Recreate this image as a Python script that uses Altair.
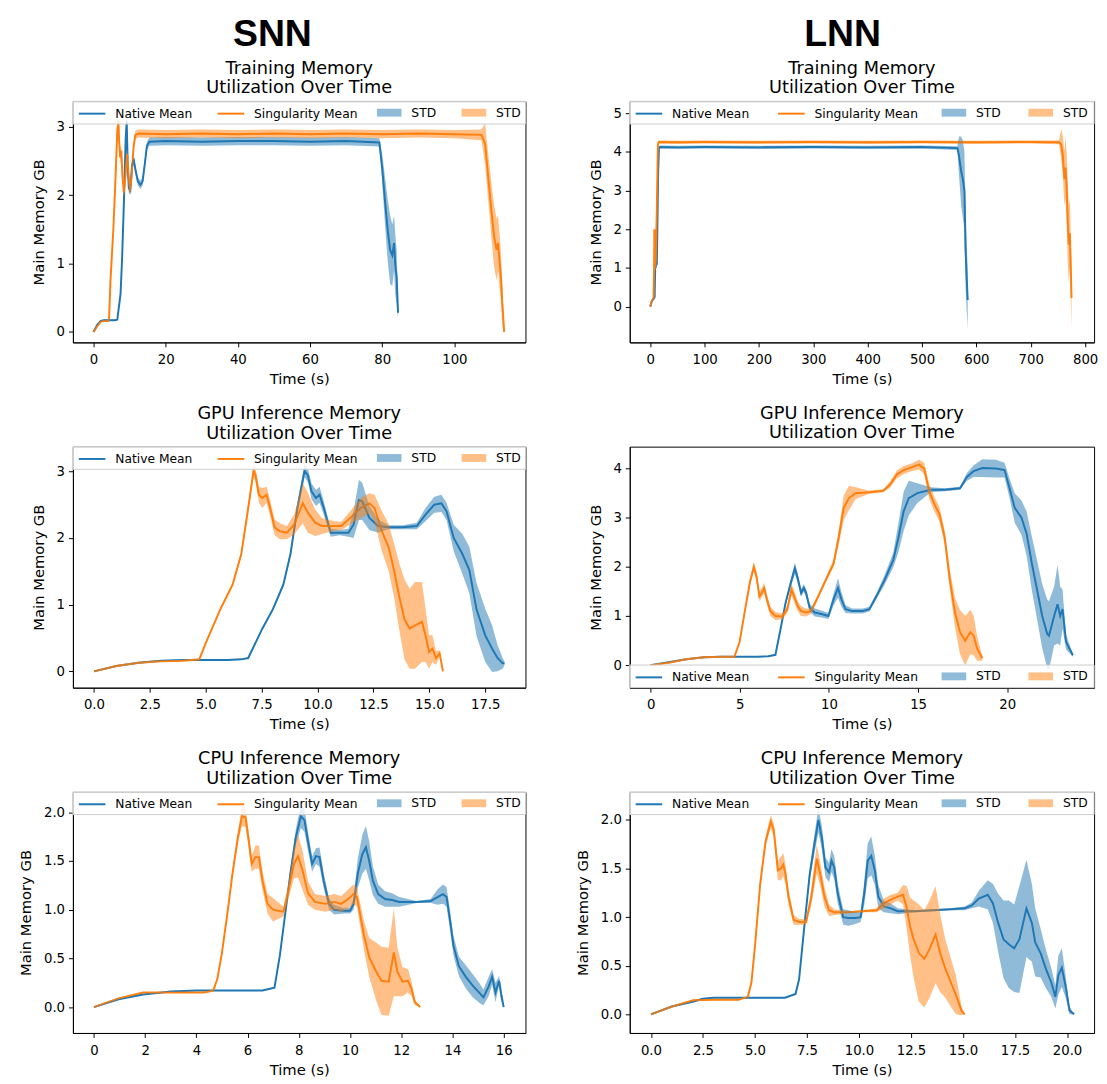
import altair as alt
import pandas as pd

BLUE = "#1f77b4"
ORANGE = "#ff7f0e"

# ---------------- SNN training ----------------
snn_tr_nat_t = [0, 1, 2, 3, 4, 5, 6, 6.6, 7.5, 7.9, 8.4, 8.9, 9.2, 9.5, 9.8, 10.2, 10.7, 11.2, 11.7, 12.3, 13.0, 13.6, 14.2, 14.8, 15.5,
                20, 30, 40, 50, 60, 70, 79.2, 80.0, 80.8, 81.5, 82.2, 82.8, 83.3, 83.6, 84.0, 84.4]
snn_tr_nat_m = [0, 0.1, 0.16, 0.17, 0.17, 0.17, 0.17, 0.18, 0.56, 1.04, 1.85, 2.8, 3.08, 2.4, 2.1, 2.07, 2.45, 2.5, 2.35, 2.2, 2.15, 2.2, 2.45, 2.72, 2.78,
                2.79, 2.78, 2.79, 2.79, 2.78, 2.79, 2.77, 2.4, 1.9, 1.5, 1.2, 1.12, 1.3, 1.0, 0.8, 0.28]
snn_tr_nat_s = [0.005, 0.01, 0.01, 0.01, 0.01, 0.01, 0.01, 0.01, 0.03, 0.05, 0.08, 0.1, 0.1, 0.1, 0.08, 0.06, 0.06, 0.06, 0.06, 0.06, 0.06, 0.06, 0.06, 0.06, 0.06,
                0.06, 0.06, 0.06, 0.06, 0.06, 0.06, 0.06, 0.2, 0.35, 0.45, 0.5, 0.45, 0.4, 0.45, 0.4, 0.1]
snn_tr_sin_t = [0, 1, 2, 3, 4, 4.3, 4.7, 5.5, 6.1, 6.6, 6.9, 7.1, 7.4, 7.7, 8.0, 8.4, 8.9, 9.3, 9.7, 10.1, 10.6, 11.1, 11.6, 12.5,
                20, 30, 40, 50, 60, 70, 80, 90, 100, 107.5, 108.5, 109.5, 110.3, 111.0, 111.7, 112.1, 112.5, 112.9, 113.3, 113.8]
snn_tr_sin_m = [0, 0.08, 0.15, 0.16, 0.16, 0.17, 0.75, 1.5, 2.25, 2.95, 3.08, 2.8, 2.55, 2.65, 2.3, 2.04, 2.3, 2.6, 2.3, 2.05, 2.3, 2.7, 2.88, 2.9,
                2.89, 2.9, 2.89, 2.9, 2.89, 2.9, 2.89, 2.9, 2.89, 2.88, 2.75, 2.2, 1.75, 1.4, 1.2, 1.3, 1.05, 0.8, 0.4, 0.0]
snn_tr_sin_s = [0.005, 0.01, 0.01, 0.01, 0.01, 0.01, 0.03, 0.05, 0.06, 0.08, 0.08, 0.1, 0.1, 0.1, 0.1, 0.08, 0.08, 0.08, 0.08, 0.06, 0.06, 0.06, 0.06, 0.06,
                0.06, 0.06, 0.06, 0.06, 0.06, 0.06, 0.06, 0.06, 0.06, 0.08, 0.3, 0.35, 0.4, 0.45, 0.45, 0.4, 0.4, 0.35, 0.3, 0.05]

# ---------------- LNN training ----------------
lnn_tr_nat_t = [0, 3, 6, 8, 9, 10, 12, 13, 14.5, 16, 18, 50, 100, 200, 300, 400, 500, 565, 568, 572, 575, 578, 580, 582, 584]
lnn_tr_nat_m = [0, 0.15, 0.2, 0.25, 1.0, 1.05, 1.1, 2.0, 3.5, 4.1, 4.13, 4.12, 4.13, 4.12, 4.13, 4.12, 4.13, 4.1, 3.9, 3.5, 3.3, 3.0, 1.5, 0.8, 0.17]
lnn_tr_nat_s = [0.01, 0.02, 0.02, 0.05, 0.05, 0.05, 0.1, 0.2, 0.2, 0.05, 0.04, 0.04, 0.04, 0.04, 0.04, 0.04, 0.04, 0.05, 0.5, 0.9, 1.0, 1.0, 1.0, 0.9, 0.75]
lnn_tr_sin_t = [0, 3, 6, 7, 7.5, 8, 8.5, 10, 12, 14, 16, 50, 100, 200, 300, 400, 500, 600, 700, 752, 756, 759, 762, 764, 766, 768, 770, 772, 775]
lnn_tr_sin_m = [0, 0.15, 0.22, 1.0, 2.0, 1.9, 1.0, 1.1, 2.5, 4.2, 4.26, 4.25, 4.26, 4.25, 4.26, 4.25, 4.26, 4.25, 4.26, 4.25, 4.2, 3.9, 3.3, 3.6, 3.1, 2.2, 1.6, 1.9, 0.22]
lnn_tr_sin_s = [0.01, 0.02, 0.02, 0.1, 0.1, 0.1, 0.1, 0.1, 0.2, 0.1, 0.04, 0.04, 0.04, 0.04, 0.04, 0.04, 0.04, 0.04, 0.04, 0.05, 0.4, 0.5, 0.7, 0.8, 0.9, 1.0, 1.0, 0.9, 0.8]

# ---------------- SNN GPU inference ----------------
snn_gpu_nat_t = [0, 1, 2, 3, 4, 5, 6, 6.6, 6.9, 7.53, 8.0, 8.47, 8.79, 9.1, 9.42, 9.57, 9.73, 9.93, 10.09, 10.28, 10.59, 10.99, 11.38, 11.61,
                 11.85, 12.0, 12.32, 12.71, 13.18, 13.81, 14.44, 14.83, 15.22, 15.54, 15.77, 16.09, 16.48, 16.79, 17.11, 17.5, 17.81, 18.05, 18.28, 18.36]
snn_gpu_nat_m = [0, 0.08, 0.13, 0.16, 0.17, 0.17, 0.17, 0.18, 0.2, 0.64, 0.93, 1.3, 1.76, 2.45, 3.01, 2.94, 2.7, 2.6, 2.65, 2.45, 2.08, 2.08, 2.08, 2.2,
                 2.57, 2.55, 2.3, 2.18, 2.16, 2.16, 2.18, 2.35, 2.5, 2.52, 2.4, 2.0, 1.76, 1.52, 0.93, 0.54, 0.34, 0.2, 0.12, 0.12]
snn_gpu_nat_s = [0.005, 0.005, 0.005, 0.005, 0.005, 0.005, 0.005, 0.005, 0.005, 0.01, 0.02, 0.03, 0.05, 0.08, 0.1, 0.1, 0.12, 0.12, 0.12, 0.1, 0.06, 0.04, 0.06, 0.2,
                 0.3, 0.28, 0.18, 0.1, 0.03, 0.03, 0.05, 0.1, 0.12, 0.13, 0.13, 0.2, 0.3, 0.35, 0.4, 0.4, 0.35, 0.2, 0.08, 0.03]
snn_gpu_sin_t = [0, 1, 2, 3, 4, 4.71, 5.02, 5.65, 6.2, 6.59, 6.9, 7.14, 7.22, 7.38, 7.53, 7.72, 7.88, 8.08, 8.32, 8.63, 8.95, 9.34, 9.57, 9.89, 10.2,
                 10.67, 11.06, 11.46, 11.93, 12.32, 12.55, 12.87, 13.18, 13.42, 13.65, 13.89, 14.12, 14.36, 14.67, 14.83, 14.99, 15.14, 15.3, 15.46, 15.61]
snn_gpu_sin_m = [0, 0.08, 0.13, 0.15, 0.16, 0.18, 0.44, 0.93, 1.3, 1.76, 2.45, 3.01, 2.95, 2.65, 2.6, 2.65, 2.45, 2.16, 2.1, 2.08, 2.2, 2.52, 2.38, 2.23, 2.18,
                 2.18, 2.18, 2.3, 2.45, 2.52, 2.45, 2.11, 1.86, 1.52, 1.13, 0.78, 0.64, 0.69, 0.74, 0.54, 0.29, 0.34, 0.2, 0.27, 0.0]
snn_gpu_sin_s = [0.005, 0.005, 0.005, 0.005, 0.005, 0.005, 0.01, 0.02, 0.03, 0.04, 0.06, 0.1, 0.1, 0.12, 0.15, 0.12, 0.12, 0.12, 0.12, 0.1, 0.15, 0.3, 0.3, 0.2, 0.12,
                 0.08, 0.06, 0.1, 0.15, 0.15, 0.2, 0.3, 0.35, 0.4, 0.5, 0.6, 0.6, 0.65, 0.6, 0.4, 0.25, 0.2, 0.1, 0.05, 0.0]

# ---------------- LNN GPU inference ----------------
lnn_gpu_nat_t = [0, 1, 2, 3, 4, 5, 6, 6.6, 7.0, 7.29, 7.57, 7.86, 8.09, 8.25, 8.44, 8.59, 8.72, 8.92, 9.2, 9.59, 9.97, 10.26, 10.51, 10.7, 10.93,
                 11.31, 11.89, 12.27, 12.66, 13.13, 13.61, 13.9, 14.19, 14.48, 14.96, 15.72, 16.49, 17.35, 17.74, 18.12, 18.6, 19.37, 19.85,
                 20.13, 20.42, 20.8, 21.09, 21.38, 21.67, 21.96, 22.24, 22.34, 22.63, 22.82, 22.97, 23.1, 23.3, 23.68]
lnn_gpu_nat_m = [0, 0.06, 0.12, 0.16, 0.17, 0.17, 0.17, 0.18, 0.21, 0.74, 1.27, 1.67, 1.97, 1.77, 1.47, 1.57, 1.47, 1.17, 1.07, 1.04, 1.0, 1.34, 1.57, 1.34, 1.14,
                 1.1, 1.1, 1.14, 1.4, 1.74, 2.14, 2.6, 3.13, 3.4, 3.5, 3.57, 3.57, 3.6, 3.83, 3.95, 4.01, 4.0, 3.97,
                 3.6, 3.2, 3.0, 2.67, 2.07, 1.54, 1.0, 0.64, 0.6, 1.0, 1.24, 1.0, 1.14, 0.47, 0.2]
lnn_gpu_nat_s = [0.005, 0.005, 0.005, 0.005, 0.005, 0.005, 0.005, 0.005, 0.005, 0.03, 0.05, 0.08, 0.12, 0.1, 0.08, 0.08, 0.08, 0.08, 0.08, 0.07, 0.06, 0.12, 0.2, 0.15, 0.08,
                 0.05, 0.05, 0.05, 0.06, 0.1, 0.15, 0.3, 0.4, 0.35, 0.2, 0.05, 0.03, 0.03, 0.08, 0.12, 0.18, 0.18, 0.15,
                 0.2, 0.3, 0.35, 0.45, 0.55, 0.6, 0.65, 0.7, 0.7, 0.6, 0.8, 0.6, 0.4, 0.15, 0.03]
lnn_gpu_sin_t = [0, 1, 2, 3, 4, 4.7, 4.99, 5.27, 5.56, 5.79, 5.94, 6.1, 6.23, 6.37, 6.52, 6.71, 7.0, 7.38, 7.67, 7.9, 8.05, 8.25, 8.44, 8.72, 9.0,
                 9.4, 9.78, 10.26, 10.55, 10.83, 11.12, 11.5, 12.27, 13.04, 13.42, 13.81, 14.19, 14.67, 15.05, 15.34, 15.63, 15.92, 16.2, 16.49,
                 16.78, 17.07, 17.35, 17.64, 17.93, 18.12, 18.31, 18.6]
lnn_gpu_sin_m = [0, 0.05, 0.12, 0.16, 0.17, 0.17, 0.47, 1.07, 1.67, 2.0, 1.8, 1.4, 1.47, 1.57, 1.34, 1.1, 1.0, 0.99, 1.14, 1.54, 1.4, 1.2, 1.1, 1.07, 1.1,
                 1.4, 1.7, 2.07, 2.6, 3.2, 3.4, 3.5, 3.52, 3.55, 3.67, 3.88, 3.97, 4.03, 4.08, 4.0, 3.53, 3.27, 3.07, 2.6,
                 1.74, 1.07, 0.67, 0.5, 0.67, 0.6, 0.34, 0.14]
lnn_gpu_sin_s = [0.005, 0.005, 0.005, 0.005, 0.005, 0.005, 0.02, 0.04, 0.06, 0.1, 0.1, 0.1, 0.1, 0.1, 0.1, 0.1, 0.08, 0.06, 0.08, 0.12, 0.12, 0.1, 0.1, 0.08, 0.06,
                 0.05, 0.05, 0.08, 0.15, 0.25, 0.25, 0.12, 0.03, 0.03, 0.06, 0.08, 0.08, 0.08, 0.1, 0.12, 0.15, 0.15, 0.15, 0.15,
                 0.2, 0.3, 0.45, 0.5, 0.45, 0.4, 0.25, 0.05]

# ---------------- SNN CPU inference ----------------
snn_cpu_nat_t = [0, 0.96, 1.92, 3, 4, 5, 6, 6.58, 7.05, 7.26, 7.47, 7.67, 7.88, 8.08, 8.22, 8.36, 8.52, 8.67, 8.81, 8.97, 9.18, 9.38, 9.73, 10.0,
                 10.14, 10.3, 10.48, 10.62, 10.75, 10.89, 11.1, 11.37, 11.64, 11.92, 12.6, 13.15, 13.42, 13.63, 13.77, 13.9, 14.04, 14.25,
                 14.52, 14.79, 15.07, 15.21, 15.41, 15.55, 15.68, 15.82, 15.89, 16.0]
snn_cpu_nat_m = [0, 0.08, 0.13, 0.16, 0.17, 0.17, 0.17, 0.17, 0.2, 0.53, 0.96, 1.37, 1.74, 1.96, 1.92, 1.7, 1.47, 1.55, 1.54, 1.3, 1.06, 1.0, 0.99, 0.99,
                 1.06, 1.37, 1.57, 1.64, 1.5, 1.3, 1.16, 1.11, 1.1, 1.08, 1.08, 1.09, 1.13, 1.16, 1.13, 0.9, 0.63, 0.42,
                 0.31, 0.22, 0.14, 0.1, 0.21, 0.31, 0.15, 0.27, 0.15, 0.0]
snn_cpu_nat_s = [0.005, 0.005, 0.005, 0.005, 0.005, 0.005, 0.005, 0.005, 0.005, 0.02, 0.03, 0.05, 0.08, 0.12, 0.12, 0.1, 0.08, 0.08, 0.1, 0.08, 0.06, 0.05, 0.03, 0.03,
                 0.06, 0.15, 0.2, 0.22, 0.2, 0.15, 0.1, 0.08, 0.07, 0.05, 0.01, 0.02, 0.08, 0.1, 0.1, 0.1, 0.1, 0.1,
                 0.12, 0.12, 0.1, 0.08, 0.1, 0.08, 0.1, 0.05, 0.08, 0.0]
snn_cpu_sin_t = [0, 0.96, 1.92, 3, 4.3, 4.66, 4.82, 5.0, 5.21, 5.41, 5.62, 5.78, 5.92, 6.03, 6.16, 6.3, 6.44, 6.58, 6.78, 6.99, 7.4, 7.6, 7.81, 7.97,
                 8.15, 8.36, 8.63, 9.04, 9.38, 9.66, 9.93, 10.14, 10.27, 10.41, 10.55, 10.75, 11.03, 11.23, 11.51, 11.71, 11.85, 12.05,
                 12.26, 12.4, 12.53, 12.74]
snn_cpu_sin_m = [0, 0.09, 0.15, 0.15, 0.15, 0.17, 0.29, 0.56, 0.96, 1.37, 1.74, 1.96, 1.95, 1.74, 1.47, 1.54, 1.54, 1.3, 1.06, 1.0, 0.98, 1.2, 1.47, 1.55,
                 1.4, 1.17, 1.08, 1.06, 1.08, 1.06, 1.11, 1.16, 1.13, 0.93, 0.73, 0.51, 0.36, 0.27, 0.26, 0.56, 0.36, 0.26,
                 0.27, 0.19, 0.05, 0.0]
snn_cpu_sin_s = [0.005, 0.005, 0.005, 0.005, 0.005, 0.005, 0.01, 0.02, 0.03, 0.04, 0.06, 0.1, 0.1, 0.08, 0.08, 0.12, 0.12, 0.1, 0.1, 0.12, 0.05, 0.08, 0.15, 0.22,
                 0.2, 0.12, 0.08, 0.08, 0.08, 0.08, 0.1, 0.1, 0.1, 0.12, 0.15, 0.2, 0.3, 0.35, 0.35, 0.45, 0.25, 0.15,
                 0.12, 0.08, 0.03, 0.0]

# ---------------- LNN CPU inference ----------------
lnn_cpu_nat_t = [0, 1.0, 2.0, 2.5, 3, 4, 5, 6, 6.44, 6.95, 7.12, 7.37, 7.63, 7.88, 8.05, 8.22, 8.39, 8.56, 8.68, 8.81, 8.98, 9.24, 9.49, 9.83,
                 10.08, 10.25, 10.42, 10.59, 10.76, 10.93, 11.19, 11.53, 11.86, 12.71, 13.56, 14.41, 15.08, 15.42, 15.76, 16.19, 16.44, 16.69,
                 16.95, 17.2, 17.46, 17.71, 18.05, 18.31, 18.47, 18.73, 18.98, 19.24, 19.44, 19.58, 19.75, 19.92, 20.12, 20.34]
lnn_cpu_nat_m = [0, 0.08, 0.13, 0.16, 0.17, 0.17, 0.17, 0.17, 0.17, 0.21, 0.36, 0.9, 1.44, 1.78, 2.0, 1.81, 1.51, 1.46, 1.58, 1.51, 1.24, 1.0, 0.99, 0.99,
                 1.0, 1.24, 1.58, 1.63, 1.48, 1.21, 1.11, 1.09, 1.06, 1.06, 1.07, 1.08, 1.09, 1.12, 1.19, 1.23, 1.14, 0.94,
                 0.77, 0.72, 0.68, 0.77, 1.09, 0.94, 0.74, 0.63, 0.47, 0.33, 0.18, 0.4, 0.48, 0.3, 0.04, 0.0]
lnn_cpu_nat_s = [0.005, 0.005, 0.005, 0.005, 0.005, 0.005, 0.005, 0.005, 0.005, 0.005, 0.01, 0.03, 0.06, 0.1, 0.13, 0.12, 0.1, 0.1, 0.12, 0.12, 0.1, 0.08, 0.08, 0.06,
                 0.05, 0.12, 0.18, 0.2, 0.15, 0.12, 0.06, 0.05, 0.03, 0.01, 0.01, 0.01, 0.02, 0.03, 0.08, 0.15, 0.2, 0.3,
                 0.4, 0.45, 0.45, 0.55, 0.5, 0.4, 0.35, 0.25, 0.2, 0.15, 0.12, 0.2, 0.2, 0.12, 0.04, 0.0]
lnn_cpu_sin_t = [0, 1.02, 2.03, 3, 4.2, 4.66, 4.83, 5.0, 5.25, 5.51, 5.76, 5.9, 6.1, 6.25, 6.36, 6.47, 6.61, 6.86, 7.12, 7.46, 7.71, 7.97, 8.14, 8.34,
                 8.56, 8.81, 9.49, 10.17, 10.85, 11.19, 11.53, 11.86, 12.12, 12.29, 12.46, 12.63, 12.88, 13.14, 13.39, 13.68, 13.9, 14.15,
                 14.41, 14.66, 14.92, 15.08]
lnn_cpu_sin_m = [0, 0.08, 0.145, 0.15, 0.15, 0.18, 0.33, 0.7, 1.34, 1.78, 1.98, 1.9, 1.48, 1.5, 1.54, 1.44, 1.21, 0.97, 0.95, 0.95, 1.21, 1.6, 1.44, 1.21,
                 1.07, 1.05, 1.05, 1.06, 1.07, 1.14, 1.18, 1.21, 1.23, 1.1, 0.9, 0.77, 0.63, 0.57, 0.67, 0.82, 0.63, 0.47,
                 0.33, 0.2, 0.04, 0.0]
lnn_cpu_sin_s = [0.005, 0.005, 0.005, 0.005, 0.005, 0.005, 0.01, 0.02, 0.04, 0.05, 0.07, 0.07, 0.1, 0.12, 0.12, 0.1, 0.08, 0.05, 0.03, 0.03, 0.08, 0.15, 0.12, 0.1,
                 0.06, 0.03, 0.01, 0.01, 0.02, 0.05, 0.05, 0.04, 0.1, 0.22, 0.3, 0.4, 0.5, 0.5, 0.5, 0.5, 0.4, 0.3,
                 0.25, 0.2, 0.05, 0.0]

TITLE_TRAIN = ["Training Memory", "Utilization Over Time"]
TITLE_GPU = ["GPU Inference Memory", "Utilization Over Time"]
TITLE_CPU = ["CPU Inference Memory", "Utilization Over Time"]
HEADERS = ["SNN", "LNN"]

H = 245
LEG_H = 23


def make_df(nt, nm, ns, st, sm, ss):
    rows = []
    for t, m, s in zip(nt, nm, ns):
        rows.append({"t": t, "mean": m, "lo": m - s, "hi": m + s,
                     "series": "Native Mean", "band": "STD_native"})
    for t, m, s in zip(st, sm, ss):
        rows.append({"t": t, "mean": m, "lo": m - s, "hi": m + s,
                     "series": "Singularity Mean", "band": "STD_sing"})
    return pd.DataFrame(rows)


def panel(df, W, xdom, ydom, xticks, yticks, xfmt, yfmt, title, legend_bottom=False):
    leg_top = H - LEG_H if legend_bottom else 0
    xenc = alt.X("t:Q", scale=alt.Scale(domain=xdom, nice=False, zero=False),
                 axis=alt.Axis(values=xticks, format=xfmt, title="Time (s)"))
    yaxis = alt.Axis(values=yticks, format=yfmt, title="Main Memory GB")
    yscale = alt.Scale(domain=ydom, nice=False, zero=False)
    base = alt.Chart(df)
    line_leg = alt.Legend(
        orient="none", legendX=5, legendY=leg_top + 11.5 - 13.5, direction="horizontal",
        title=None, labelFont="DejaVu Sans", labelFontSize=12.5, labelColor="black",
        symbolType="stroke", symbolSize=729, symbolStrokeWidth=2, labelOffset=9,
        columnPadding=round(0.309 * W - 121, 1), padding=0)
    fill_leg = alt.Legend(
        orient="none", legendX=round(0.672 * W), legendY=leg_top + 11.5 - 12.5, direction="horizontal",
        title=None, labelFont="DejaVu Sans", labelFontSize=12.5, labelColor="black",
        labelExpr="'STD'", symbolType="M-1,-0.32H1V0.32H-1Z", symbolSize=625,
        symbolOpacity=0.5, symbolStrokeWidth=0, labelOffset=10,
        columnPadding=round(0.185 * W - 60, 1), padding=0)
    lines = base.mark_line(strokeWidth=2, clip=True).encode(
        x=xenc,
        y=alt.Y("mean:Q", scale=yscale, axis=yaxis),
        color=alt.Color("series:N",
                        scale=alt.Scale(domain=["Native Mean", "Singularity Mean"], range=[BLUE, ORANGE]),
                        legend=line_leg),
    )
    bands = base.mark_area(opacity=0.5, clip=True).encode(
        x=xenc,
        y=alt.Y("lo:Q", scale=yscale, axis=yaxis),
        y2="hi:Q",
        fill=alt.Fill("band:N",
                      scale=alt.Scale(domain=["STD_native", "STD_sing"], range=[BLUE, ORANGE]),
                      legend=fill_leg),
    )
    one = pd.DataFrame({"k": [0]})
    legbox = alt.Chart(one).mark_rect(fill="white", fillOpacity=0.8, stroke="#cccccc", strokeWidth=1).encode(
        x=alt.value(0), x2=alt.value(W), y=alt.value(leg_top), y2=alt.value(leg_top + LEG_H))
    return alt.layer(lines, bands, legbox).properties(
        width=W, height=H,
        title=alt.TitleParams(text=title, offset=4.5 if legend_bottom else 2))


p1 = panel(make_df(snn_tr_nat_t, snn_tr_nat_m, snn_tr_nat_s, snn_tr_sin_t, snn_tr_sin_m, snn_tr_sin_s),
           460, [-5.7, 119.7], [-0.153, 3.37], [0, 20, 40, 60, 80, 100], [0, 1, 2, 3], "d", "d", TITLE_TRAIN)
p2 = panel(make_df(lnn_tr_nat_t, lnn_tr_nat_m, lnn_tr_nat_s, lnn_tr_sin_t, lnn_tr_sin_m, lnn_tr_sin_s),
           472, [-37.8, 816.5], [-0.925, 5.31], [0, 100, 200, 300, 400, 500, 600, 700, 800], [0, 1, 2, 3, 4, 5], "d", "d",
           TITLE_TRAIN)
p3 = panel(make_df(snn_gpu_nat_t, snn_gpu_nat_m, snn_gpu_nat_s, snn_gpu_sin_t, snn_gpu_sin_m, snn_gpu_sin_s),
           460, [-0.94, 19.3], [-0.245, 3.37], [0, 2.5, 5, 7.5, 10, 12.5, 15, 17.5], [0, 1, 2, 3], ".1f", "d", TITLE_GPU)
p4 = panel(make_df(lnn_gpu_nat_t, lnn_gpu_nat_m, lnn_gpu_nat_s, lnn_gpu_sin_t, lnn_gpu_sin_m, lnn_gpu_sin_s),
           472, [-1.17, 24.87], [-0.459, 4.446], [0, 5, 10, 15, 20], [0, 1, 2, 3, 4], "d", "d", TITLE_GPU,
           legend_bottom=True)
p5 = panel(make_df(snn_cpu_nat_t, snn_cpu_nat_m, snn_cpu_nat_s, snn_cpu_sin_t, snn_cpu_sin_m, snn_cpu_sin_s),
           460, [-0.82, 16.85], [-0.266, 2.209], [0, 2, 4, 6, 8, 10, 12, 14, 16], [0, 0.5, 1.0, 1.5, 2.0], "d", ".1f",
           TITLE_CPU)
p6 = panel(make_df(lnn_cpu_nat_t, lnn_cpu_nat_m, lnn_cpu_nat_s, lnn_cpu_sin_t, lnn_cpu_sin_m, lnn_cpu_sin_s),
           472, [-1.02, 21.3], [-0.192, 2.287], [0, 2.5, 5, 7.5, 10, 12.5, 15, 17.5, 20], [0, 0.5, 1.0, 1.5, 2.0], ".1f", ".1f",
           TITLE_CPU)


def column(panels, header, dx):
    return alt.vconcat(*panels, spacing=106, bounds="flush").properties(
        title=alt.TitleParams(text=header, font="Liberation Sans", fontSize=38, fontWeight="bold",
                              color="black", anchor="middle", offset=5.5, dx=dx)
    ).resolve_scale(color="independent", fill="independent", x="independent", y="independent")


chart = alt.hconcat(column([p1, p3, p5], HEADERS[0], 0), column([p2, p4, p6], HEADERS[1], 6),
                    spacing=49).resolve_scale(
    color="independent", fill="independent", x="independent", y="independent"
).properties(
    padding={"left": 10, "top": 0, "right": 0, "bottom": 0},
    background="white",
).configure_view(
    stroke="black", strokeWidth=1
).configure_axis(
    domainColor="black", tickColor="black", labelColor="black", titleColor="black",
    labelFont="DejaVu Sans", titleFont="DejaVu Sans", labelFontSize=13.5, titleFontSize=15,
    titleFontWeight="normal", grid=False, tickSize=4.5, labelPadding=4, domainWidth=1, tickWidth=1,
    labelFlush=False,
).configure_axisX(
    titlePadding=6, labelPadding=6
).configure_axisY(
    titlePadding=10
).configure_title(
    font="DejaVu Sans", fontSize=18, fontWeight="normal", color="black",
    anchor="middle", lineHeight=20,
)

chart.save("out.html", embed_options={"renderer": "svg", "actions": False})
